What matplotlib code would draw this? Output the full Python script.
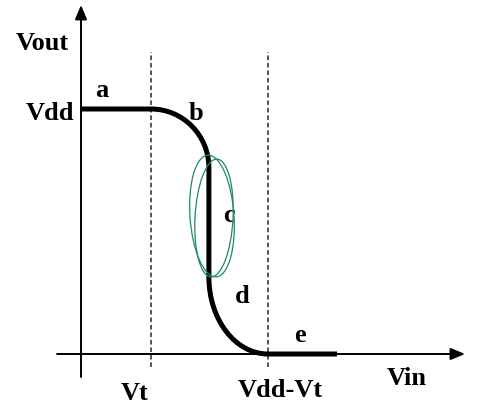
import matplotlib
matplotlib.use("Agg")
import matplotlib.pyplot as plt
from matplotlib.path import Path
from matplotlib.patches import PathPatch, Ellipse

# ---- data (Vdd = 1 on both axes) ----
vt = 0.286          # threshold voltage position on Vin axis
vdd_vt = 0.763      # Vdd - Vt position on Vin axis
vin_knees = [0.0, 0.286, 0.522, 0.522, 0.763, 1.045]
vout_knees = [1.0, 1.0, 0.76, 0.314, 0.0, 0.0]
region_labels = ["a", "b", "c", "d", "e"]
vin_tick_labels = ["Vt", "Vdd-Vt"]

# ---- figure ----
S = 245.0  # pixels per unit
fig = plt.figure(figsize=(4.94, 4.11), dpi=100)
ax = fig.add_axes([0, 0, 1, 1])
ax.set_xlim(-81 / S, 413 / S)
ax.set_ylim(-57 / S, 354 / S)
ax.axis("off")

font = dict(family=["Liberation Serif", "DejaVu Serif"], fontweight="bold", fontsize=19, color="black")

# axes with arrows
arrow = dict(arrowstyle="-|>,head_length=0.86,head_width=0.36", mutation_scale=10,
             lw=1.4, color="black", shrinkA=0, shrinkB=0)
ax.annotate("", xy=(0, 349 / S), xytext=(0, -23 / S), arrowprops=arrow)
ax.annotate("", xy=(384 / S, 0), xytext=(-24 / S, 0), arrowprops=arrow)

# dashed guide lines
for xv in (vt, vdd_vt):
    ax.plot([xv, xv], [-13 / S, 302 / S], color="#2a2a2a", lw=1.1,
            dashes=(3.0, 1.9), zorder=1)

# transfer curve: straight pieces + quarter-ellipse Bezier pieces
k = 0.5523
x, y = vin_knees, vout_knees
verts = [(x[0], y[0]), (x[1], y[1]),
         (x[1] + k * (x[2] - x[1]), y[1]), (x[2], y[2] + k * (y[1] - y[2])), (x[2], y[2]),
         (x[3], y[3]),
         (x[3], y[3] - k * (y[3] - y[4])), (x[4] - k * (x[4] - x[3]), y[4]), (x[4], y[4]),
         (x[5], y[5])]
codes = [Path.MOVETO, Path.LINETO,
         Path.CURVE4, Path.CURVE4, Path.CURVE4,
         Path.LINETO,
         Path.CURVE4, Path.CURVE4, Path.CURVE4,
         Path.LINETO]
ax.add_patch(PathPatch(Path(verts, codes), fill=False, lw=3.6, edgecolor="black",
                       capstyle="butt", joinstyle="round", zorder=3))

# hand-drawn green loop around region c
green = "#1e8a62"
ax.add_patch(Ellipse((131 / S, 138 / S), 44 / S, 122 / S, angle=4, fill=False,
                     edgecolor=green, lw=0.9, zorder=4))
ax.add_patch(Ellipse((133 / S, 136 / S), 38 / S, 118 / S, angle=-3, fill=False,
                     edgecolor=green, lw=0.9, zorder=4))

# region labels
label_pos = [(21, 257), (115, 234), (148, 132), (161, 51), (219, 12)]
for lab, (px, py) in zip(region_labels, label_pos):
    ax.text(px / S, py / S, lab, ha="center", va="baseline", **font)

# axis labels
ax.text(-39 / S, 304 / S, "Vout", ha="center", va="baseline", **font)
ax.text(-31 / S, 234 / S, "Vdd", ha="center", va="baseline", **font)
ax.text(vt - 16 / S, -46 / S, vin_tick_labels[0], ha="center", va="baseline", **font)
ax.text(vdd_vt + 12 / S, -43 / S, vin_tick_labels[1], ha="center", va="baseline", **font)
ax.text(326 / S, -31 / S, "Vin", ha="center", va="baseline", **font)

fig.savefig("out.png", dpi=100)
